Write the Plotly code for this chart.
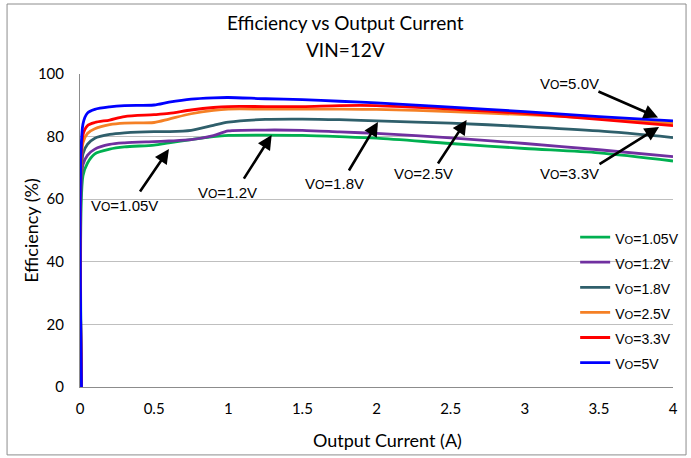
import plotly.graph_objects as go

current = [0.01, 0.02, 0.05, 0.1, 0.2, 0.3, 0.5, 0.6, 0.75, 0.9, 1.0, 1.25, 1.5, 1.75, 2.0, 2.5, 3.0, 3.5, 4.0]

eff_105 = [0, 67.5, 71.5, 74.5, 76.0, 76.7, 77.3, 78.0, 79.0, 80.0, 80.4, 80.5, 80.4, 80.0, 79.5, 77.8, 76.2, 74.8, 72.2]
eff_12 = [0, 71.0, 74.0, 76.0, 77.5, 78.0, 78.4, 78.6, 79.0, 80.3, 81.8, 82.1, 82.0, 81.5, 81.0, 79.6, 77.8, 75.8, 73.6]
eff_18 = [0, 74.5, 77.5, 79.5, 80.7, 81.2, 81.6, 81.6, 82.0, 83.6, 84.6, 85.5, 85.6, 85.4, 85.0, 84.3, 83.2, 81.8, 79.7]
eff_25 = [0, 78.0, 81.0, 82.5, 83.8, 84.3, 84.5, 85.6, 87.3, 88.4, 88.8, 88.8, 88.8, 88.8, 88.7, 88.0, 87.0, 85.8, 84.2]
eff_33 = [0, 80.5, 83.5, 84.5, 85.3, 86.4, 87.0, 87.4, 88.5, 89.3, 89.6, 89.6, 89.6, 89.9, 89.9, 88.8, 87.4, 85.5, 83.5]
eff_50 = [0, 84.0, 87.5, 88.7, 89.5, 89.9, 90.1, 91.0, 92.0, 92.4, 92.5, 92.1, 91.8, 91.3, 90.8, 89.4, 88.0, 86.4, 85.0]

VO = '<span style="font-size:0.8em">O</span>'
series_names = [f"V{VO}=1.05V", f"V{VO}=1.2V", f"V{VO}=1.8V", f"V{VO}=2.5V", f"V{VO}=3.3V", f"V{VO}=5V"]
series_values = [eff_105, eff_12, eff_18, eff_25, eff_33, eff_50]
series_colors = ["#00B050", "#7030A0", "#2F5F6B", "#F58025", "#FF0000", "#0000FF"]

x_ticks = [0, 0.5, 1, 1.5, 2, 2.5, 3, 3.5, 4]
x_tick_labels = ["0", "0.5", "1", "1.5", "2", "2.5", "3", "3.5", "4"]
y_ticks = [0, 20, 40, 60, 80, 100]

title_lines = ["Efficiency vs Output Current", "VIN=12V"]

# callouts: label, text position (x, y), arrow tail (x, y), arrow head (x, y)
callout_labels = [f"V{VO}=5.0V", f"V{VO}=3.3V", f"V{VO}=2.5V", f"V{VO}=1.8V", f"V{VO}=1.2V", f"V{VO}=1.05V"]
callout_text_xy = [(3.305, 97.1), (3.305, 68.1), (2.314, 68.1), (1.72, 64.9), (0.998, 62.0), (0.297, 58.1)]
callout_tail_xy = [(3.487, 94.6), (3.494, 70.9), (2.408, 70.9), (1.808, 68.7), (1.099, 66.1), (0.398, 62.0)]
callout_head_xy = [(3.899, 86.1), (3.906, 83.1), (2.608, 85.3), (2.010, 84.7), (1.293, 80.5), (0.600, 76.0)]

fig = go.Figure()
for name, vals, col in zip(series_names, series_values, series_colors):
    fig.add_trace(go.Scatter(
        x=current, y=vals, name=f'<span style="font-size:14px">{name}</span>', mode="lines",
        line=dict(color=col, width=2.8, shape="spline", smoothing=0.8),
    ))

annotations = []
for lab, (tx, ty), (ax_, ay_), (hx, hy) in zip(callout_labels, callout_text_xy, callout_tail_xy, callout_head_xy):
    annotations.append(dict(
        x=hx, y=hy, ax=ax_, ay=ay_, xref="x", yref="y", axref="x", ayref="y",
        text="", showarrow=True, arrowhead=2, arrowsize=1.1, arrowwidth=2.6,
        arrowcolor="black", standoff=0, startstandoff=0,
    ))
    annotations.append(dict(
        x=tx, y=ty, xref="x", yref="y", text=lab, showarrow=False,
        font=dict(family="Liberation Sans, Arial", size=15, color="black"),
        xanchor="center", yanchor="middle",
    ))

# title lines (page-centred)
annotations.append(dict(
    x=(345 - 80) / 593, y=(387 - 22) / 313, xref="paper", yref="paper", text=title_lines[0],
    showarrow=False, font=dict(family="Lato", size=19, color="black"),
    xanchor="center", yanchor="middle",
))
annotations.append(dict(
    x=(345 - 80) / 593, y=(387 - 50) / 313, xref="paper", yref="paper", text=title_lines[1],
    showarrow=False, font=dict(family="Lato", size=19, color="black"),
    xanchor="center", yanchor="middle",
))
annotations.append(dict(
    x=0.519, y=-0.169, xref="paper", yref="paper", text="Output Current (A)",
    showarrow=False, font=dict(family="Lato", size=18, color="black"),
    xanchor="center", yanchor="middle",
))
annotations.append(dict(
    x=-0.084, y=0.5, xref="paper", yref="paper", text="Efficiency (%)",
    showarrow=False, textangle=-90, font=dict(family="Lato", size=18, color="black"),
    xanchor="center", yanchor="middle",
))

fig.update_layout(
    width=691, height=458,
    margin=dict(l=80, r=18, t=74, b=71, autoexpand=False),
    paper_bgcolor="white", plot_bgcolor="white",
    font=dict(family="Lato", color="black"),
    showlegend=True,
    xaxis=dict(
        range=[0, 4], tickvals=x_ticks, ticktext=x_tick_labels, automargin=False,
        showgrid=False, zeroline=False, showline=True, linecolor="#8C8C8C", linewidth=1,
        ticks="", tickfont=dict(family="Lato", size=15, color="black"), ticklabelstandoff=8,
    ),
    yaxis=dict(
        range=[0, 100], tickvals=y_ticks, automargin=False,
        showgrid=True, gridcolor="#BFBFBF", gridwidth=1,
        zeroline=False, showline=True, linecolor="#8C8C8C", linewidth=1,
        ticks="", tickfont=dict(family="Lato", size=15, color="black"), ticklabelstandoff=12,
    ),
    legend=dict(
        x=0.835, y=0.535, xanchor="left", yanchor="top",
        bgcolor="rgba(0,0,0,0)", font=dict(family="Liberation Sans, Arial", size=17, color="black"),
        itemwidth=30, tracegroupgap=0,
    ),
    annotations=annotations,
    shapes=[dict(
        type="rect", xref="paper", yref="paper",
        x0=-0.123, x1=1.022, y0=-0.217, y1=1.2236,
        line=dict(color="#8C8C8C", width=1), fillcolor="rgba(0,0,0,0)", layer="above",
    )],
)

fig.write_html("out.html", post_script="document.body.style.margin='0';",
               config={"displayModeBar": False})
